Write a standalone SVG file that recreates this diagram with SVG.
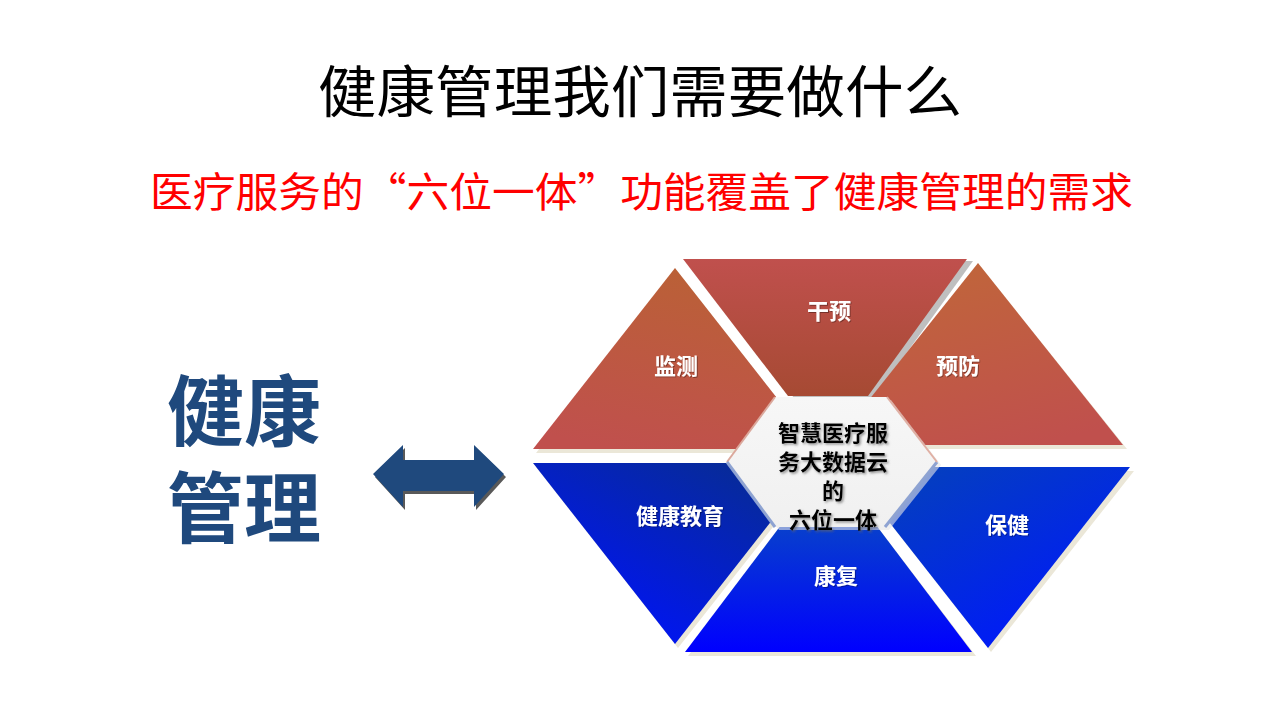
<svg xmlns="http://www.w3.org/2000/svg" width="1279" height="720" viewBox="0 0 1279 720">
<style>
.title{font-family:"Noto Sans CJK SC","Noto Sans",sans-serif;font-size:56px;fill:#000;}
.sub{font-family:"Noto Sans CJK SC","Noto Sans",sans-serif;font-size:41px;fill:#ff0000;}
.big{font-family:"Noto Sans CJK SC","Noto Sans",sans-serif;font-size:77px;font-weight:bold;fill:#1f497d;}
.lbl{font-family:"Noto Sans CJK SC","Noto Sans",sans-serif;font-size:22px;font-weight:bold;fill:#fff;text-anchor:middle;}
.ctr{font-family:"Noto Sans CJK SC","Noto Sans",sans-serif;font-size:22px;font-weight:bold;fill:#000;text-anchor:middle;}
.shd{fill:#ebe7d8;}
</style>
<defs>
<linearGradient id="gJC" x1="0.6" y1="0" x2="0.3" y2="1"><stop offset="0" stop-color="#ba6136"/><stop offset="1" stop-color="#c0504d"/></linearGradient>
<linearGradient id="gGY" x1="0" y1="0" x2="0" y2="1"><stop offset="0" stop-color="#c0504d"/><stop offset="1" stop-color="#a64a33"/></linearGradient>
<linearGradient id="gYF" x1="0.3" y1="0" x2="0.7" y2="1"><stop offset="0" stop-color="#c0663a"/><stop offset="1" stop-color="#c0504d"/></linearGradient>
<linearGradient id="gJK" x1="1" y1="0" x2="0.2" y2="1"><stop offset="0" stop-color="#082f86"/><stop offset="1" stop-color="#0012ff"/></linearGradient>
<linearGradient id="gKF" x1="0" y1="0" x2="0" y2="1"><stop offset="0" stop-color="#0840cc"/><stop offset="1" stop-color="#0000ff"/></linearGradient>
<linearGradient id="gBJ" x1="0" y1="0" x2="0.8" y2="1"><stop offset="0" stop-color="#0545b5"/><stop offset="1" stop-color="#0016ff"/></linearGradient>
<linearGradient id="gHex" x1="0" y1="0" x2="0" y2="1"><stop offset="0" stop-color="#f7f7f7"/><stop offset="1" stop-color="#f0f0f0"/></linearGradient>
<filter id="ts" x="-20%" y="-20%" width="140%" height="140%"><feDropShadow dx="1" dy="1" stdDeviation="0.6" flood-color="#000" flood-opacity="0.35"/></filter>
<filter id="tc" x="-20%" y="-20%" width="140%" height="140%"><feDropShadow dx="1.5" dy="1.5" stdDeviation="0.8" flood-color="#666" flood-opacity="0.7"/></filter>
</defs>

<g id="title"><text class="title" x="640" y="112" text-anchor="middle" textLength="644" lengthAdjust="spacingAndGlyphs">健康管理我们需要做什么</text></g>
<g id="subtitle"><text class="sub" x="150" y="207" textLength="983" lengthAdjust="spacingAndGlyphs">医疗服务的“六位一体”功能覆盖了健康管理的需求</text></g>

<g id="health-mgmt">
<text class="big" x="167" y="440">健康</text>
<text class="big" x="167" y="537">管理</text>
</g>

<g id="connectors">
<polygon points="375,477 405,448 405,463 476,463 476,448 506,477 476,510 476,494 405,494 405,510" fill="#595959"/>
<polygon points="373,474 403,445 403,460 474,460 474,445 504,474 474,507 474,491 403,491 403,507" fill="#1f497d"/>
</g>

<g id="node-jiance">
<polygon class="shd" points="536,453 678,272 820,453"/>
<polygon points="533,449 675,268 817,449" fill="url(#gJC)"/>
<text class="lbl" x="676" y="374" filter="url(#ts)">监测</text>
</g>

<g id="node-ganyu">
<polygon points="689,261 973,261 874,398 794,398" fill="#bfbfbf"/>
<polygon points="683,259 967,259 868,396 788,396" fill="url(#gGY)"/>
<text class="lbl" x="829" y="319" filter="url(#ts)">干预</text>
</g>

<g id="node-yufang">
<polygon class="shd" points="836,449 981,267 1127,449"/>
<polygon points="833,445 978,263 1123,445" fill="url(#gYF)"/>
<text class="lbl" x="958" y="374" filter="url(#ts)">预防</text>
</g>

<g id="node-jiaoyu">
<polygon class="shd" points="536,467 820,467 678,648"/>
<polygon points="533,463 817,463 675,644" fill="url(#gJK)"/>
<text class="lbl" x="680" y="524" filter="url(#ts)">健康教育</text>
</g>

<g id="node-baojian">
<polygon class="shd" points="849,471 1134,471 991,652"/>
<polygon points="846,467 1130,467 988,648" fill="url(#gBJ)"/>
<text class="lbl" x="1007" y="533" filter="url(#ts)">保健</text>
</g>

<g id="node-kangfu">
<polygon class="shd" points="784,529 879,529 976,656 688,656"/>
<polygon points="781,525 876,525 972,652 685,652" fill="url(#gKF)"/>
<text class="lbl" x="836" y="584" filter="url(#ts)">康复</text>
</g>

<g id="node-center">
<polygon points="779,400 891,400 941,465 889,530 779,530 731,465" fill="#e4e4e4" opacity="0.6"/>
<polygon points="775,397 887,397 937,462 885,527 775,527 727,462" fill="url(#gHex)"/>
<polyline points="727,462 775,397" fill="none" stroke="#dba89c" stroke-width="2"/>
<polyline points="727,462 775,527" fill="none" stroke="#8ea3d2" stroke-width="3"/>
<polyline points="937,462 885,527" fill="none" stroke="#8ea3d2" stroke-width="3"/>
<polyline points="887,397 937,462" fill="none" stroke="#e0b0a4" stroke-width="2"/>
<g filter="url(#tc)">
<text class="ctr" x="833" y="441">智慧医疗服</text>
<text class="ctr" x="833" y="470">务大数据云</text>
<text class="ctr" x="833" y="499">的</text>
<text class="ctr" x="833" y="528">六位一体</text>
</g>
</g>
</svg>
